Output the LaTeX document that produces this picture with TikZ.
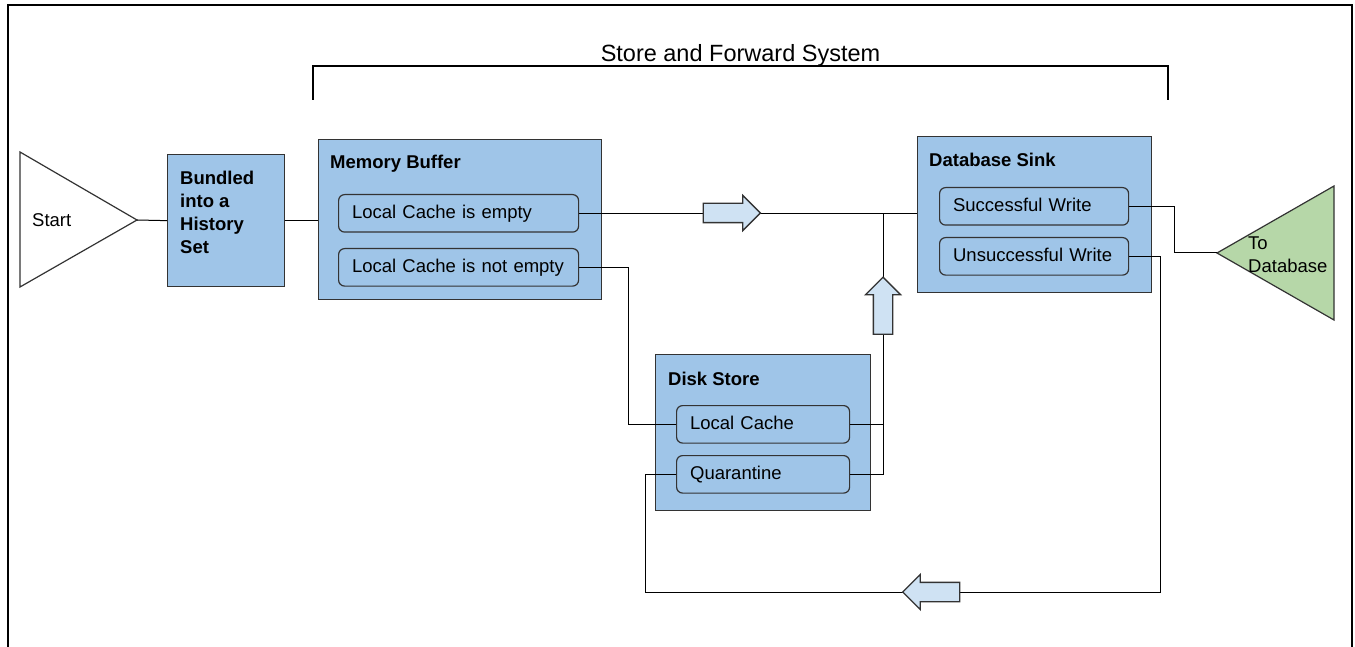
\documentclass[tikz,border=0pt]{standalone}
\usepackage{fontspec}
\setmainfont{Liberation Sans}
\usetikzlibrary{shapes.arrows}

\definecolor{boxblue}{HTML}{9FC5E8}
\definecolor{arrowblue}{HTML}{CFE2F3}
\definecolor{sinkgreen}{HTML}{B6D7A8}
\definecolor{edgegray}{HTML}{333333}

\newcommand\bodyfont{\fontsize{18.5}{23}\selectfont}
\newcommand\titlefont{\fontsize{23.5}{28}\selectfont}

\tikzset{
  stage/.style={draw=edgegray, fill=boxblue, line width=1.3pt, inner sep=0, anchor=north west},
  substage/.style={draw=edgegray, fill=boxblue, rounded corners=6pt, line width=1.2pt,
    inner xsep=13.5pt, inner ysep=0, minimum height=37.5pt, text height=13.5pt, text depth=3.5pt,
    align=left, anchor=north west, font=\bodyfont},
  heading/.style={anchor=west, inner sep=0, font=\bodyfont\bfseries},
  link/.style={draw=black, line width=1pt},
  flowarrow/.style={single arrow, draw=edgegray, fill=arrowblue, line width=1.3pt,
    inner xsep=0, inner ysep=9pt, single arrow head extend=8pt, minimum height=57pt}
}

\begin{document}
\begin{tikzpicture}[x=1pt,y=-1pt]
	\useasboundingbox (0,0) rectangle (1355,647);
	\fill[white] (0,0) rectangle (1355,647);
	\draw[line width=2pt] (8,647) -- (8,5) -- (1352,5) -- (1352,647);

	% system bracket
	\node[anchor=base, inner sep=0, font=\titlefont] (systitle) at (740.5,62) {Store and Forward System};
	\draw[line width=1.2pt] (313,100) -- (313,66) -- (1168,66) -- (1168,100);

	% start and end
	\draw[draw=edgegray, line width=1.2pt] (20,152) -- (137,220) -- (20,287) -- cycle;
	\coordinate (start) at (137,220);
	\node[anchor=west, inner sep=0, font=\bodyfont] (startlbl) at (32,220) {Start};
	\draw[draw=edgegray, fill=sinkgreen, line width=1.2pt] (1217,253) -- (1334,186) -- (1334,320) -- cycle;
	\coordinate (dbtip) at (1217,253);
	\node[anchor=north west, align=left, inner sep=0, font=\bodyfont] (dblbl) at (1248,237) {To\\Database};

	% stages
	\node[stage, minimum width=117pt, minimum height=132pt] (bundle) at (167,154) {};
	\node[anchor=north west, align=left, inner sep=0, font=\bodyfont\bfseries] (bundletxt) at (180,171) {Bundled\\into a\\History\\Set};

	\node[stage, minimum width=283pt, minimum height=160pt] (memory) at (318,139) {};
	\node[heading] (memorytitle) at (330,164) {Memory Buffer};
	\node[substage, text width=213pt] (cacheempty) at (338,194) {Local Cache is empty};
	\node[substage, text width=213pt] (cachefull) at (338,248) {Local Cache is not empty};

	\node[stage, minimum width=215pt, minimum height=156pt] (disk) at (655,354) {};
	\node[heading] (disktitle) at (668,379) {Disk Store};
	\node[substage, text width=146pt] (localcache) at (676,405) {Local Cache};
	\node[substage, text width=146pt] (quarantine) at (676,455) {Quarantine};

	\node[stage, minimum width=234pt, minimum height=156pt] (sink) at (917,136) {};
	\node[heading] (sinktitle) at (929,160) {Database Sink};
	\node[substage, text width=162pt] (goodwrite) at (939,187) {Successful Write};
	\node[substage, text width=162pt] (badwrite) at (939,237) {Unsuccessful Write};

	% connectors
	\coordinate (merge) at (883,213);
	\coordinate (loopright) at (1160,592);
	\coordinate (loopleft) at (645,592);
	\draw[link] (start) -- (bundle.west);
	\draw[link] (bundle.east) -- (bundle.east -| memory.west);
	\draw[link] (cacheempty.east) -- (cacheempty.east -| sink.west);
	\draw[link] (cachefull.east) -- ++(49,0) |- (localcache.west);
	\draw[link] (localcache.east) -- (localcache.east -| merge);
	\draw[link] (quarantine.east) -| (merge);
	\draw[link] (goodwrite.east) -- ++(45,0) |- (dbtip);
	\draw[link] (badwrite.east) -| (loopright) -- (loopleft) |- (quarantine.west);

	% flow arrows
	\node[flowarrow] (rightarrow) at (727,213) {};
	\node[flowarrow, rotate=90] (uparrow) at (883,310.5) {};
	\node[flowarrow, rotate=180] (leftarrow) at (936,592) {};
\end{tikzpicture}
\end{document}
